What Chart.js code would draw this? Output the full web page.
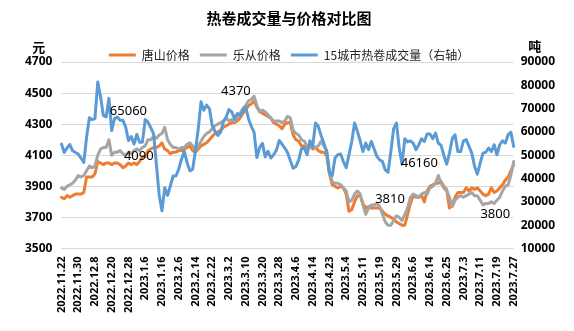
<!DOCTYPE html>
<html>
<head>
<meta charset="utf-8">
<script src="https://cdn.jsdelivr.net/npm/chart.js@4.4.0/dist/chart.umd.min.js"></script>
<style>
    html, body { margin: 0; padding: 0; background: #fff; }
    #cadre { width: 574px; height: 331px; }
</style>
</head>
<body>
<div id="cadre"><canvas id="GraphiqueVolumePrix"></canvas></div>
<script>
// etiquettes de l'axe x (une tous les 6 jours de cotation)
var etiquettesDates = ['2022.11.22', '2022.11.30', '2022.12.8', '2022.12.20', '2022.12.28', '2023.1.6', '2023.1.16',
    '2023.2.6', '2023.2.14', '2023.2.22', '2023.3.2', '2023.3.10', '2023.3.20', '2023.3.28', '2023.4.6', '2023.4.14',
    '2023.4.23', '2023.5.4', '2023.5.11', '2023.5.19', '2023.5.29', '2023.6.6', '2023.6.14', '2023.6.25', '2023.7.3',
    '2023.7.11', '2023.7.19', '2023.7.27'];
var pasEtiquettes = 6;

// 唐山价格 (元)
var prixTangshan = [
    3830, 3820, 3840, 3830, 3840, 3850, 3850, 3850, 3860, 3960,
    3960, 3960, 3980, 4060, 4050, 4040, 4050, 4050, 4040, 4050,
    4050, 4040, 4020, 4030, 4050, 4040, 4050, 4040, 4060, 4090,
    4090, 4130, 4140, 4150, 4150, 4160, 4180, 4140, 4130, 4110,
    4120, 4120, 4130, 4130, 4140, 4150, 4160, 4130, 4120, 4140,
    4160, 4170, 4180, 4200, 4220, 4240, 4250, 4260, 4280, 4290,
    4300, 4310, 4310, 4320, 4340, 4370, 4390, 4420, 4430, 4450,
    4410, 4380, 4370, 4360, 4350, 4340, 4310, 4300, 4290, 4270,
    4300, 4310, 4310, 4230, 4200, 4190, 4160, 4160, 4150, 4160,
    4140, 4150, 4130, 4120, 4120, 4100, 3980, 3910, 3900, 3890,
    3900, 3890, 3850, 3740, 3750, 3800, 3840, 3840, 3790, 3760,
    3770, 3760, 3760, 3760, 3760, 3740, 3720, 3710, 3700, 3690,
    3670, 3660, 3650, 3650, 3720, 3790, 3840, 3830, 3830, 3840,
    3800, 3870, 3900, 3910, 3920, 3920, 3930, 3900, 3880, 3760,
    3780, 3830, 3860, 3860, 3860, 3890, 3870, 3890, 3880, 3890,
    3870, 3850, 3840, 3850, 3890, 3860, 3870, 3890, 3910, 3940,
    3960, 4000, 4040
];

// 乐从价格 (元)
var prixLecong = [
    3890, 3880, 3900, 3910, 3920, 3940, 3970, 3960, 3970, 4000,
    4030, 4020, 4030, 4100, 4140, 4150, 4150, 4200, 4100, 4120,
    4120, 4130, 4110, 4100, 4120, 4110, 4130, 4140, 4130, 4150,
    4160, 4200, 4200, 4220, 4210, 4230, 4240, 4280, 4200, 4170,
    4150, 4150, 4140, 4150, 4150, 4170, 4180, 4160, 4140, 4160,
    4190, 4220, 4240, 4250, 4270, 4290, 4300, 4310, 4320, 4340,
    4320, 4330, 4320, 4350, 4370, 4400, 4420, 4450, 4460, 4480,
    4420, 4380, 4390, 4380, 4360, 4340, 4320, 4320, 4320, 4310,
    4320, 4350, 4340, 4260, 4240, 4230, 4200, 4190, 4160, 4150,
    4160, 4150, 4160, 4190, 4160, 4130, 4000, 3930, 3920, 3920,
    3910, 3890, 3870, 3800, 3810, 3850, 3870, 3850, 3780, 3720,
    3760, 3780, 3780, 3790, 3770, 3720, 3670, 3650, 3650, 3680,
    3710, 3700, 3680, 3720, 3760, 3830, 3850, 3840, 3830, 3850,
    3860, 3850, 3890, 3900, 3920, 3970, 3920, 3890, 3870, 3830,
    3770, 3810, 3830, 3840, 3830, 3840, 3850, 3860, 3840, 3840,
    3810, 3780, 3790, 3790, 3800, 3790, 3810, 3830, 3870, 3900,
    3910, 3970, 4060
];

// 15城市热卷成交量 (吨, 右轴)
var volume15Villes = [
    54800, 51200, 53100, 54600, 51900, 51200, 50500, 48800, 46900, 57700,
    66100, 65300, 65700, 81400, 75100, 67100, 66400, 74400, 60600, 65700,
    66400, 65060, 65000, 62100, 56300, 58000, 54800, 58900, 55600, 55600,
    65300, 64200, 61800, 59200, 46200, 33100, 26200, 36000, 32800, 36800,
    41100, 41100, 44000, 48300, 51700, 46900, 43300, 44000, 52000, 61300,
    72900, 69300, 71500, 70000, 62800, 60300, 58500, 59900, 64200, 66400,
    69600, 68600, 65700, 67900, 67100, 69000, 70800, 65700, 62400, 59900,
    49000, 53400, 55100, 49300, 51700, 48800, 50200, 52200, 56300, 54800,
    53100, 51200, 47600, 44400, 45200, 48000, 52800, 53100, 50200, 56200,
    53800, 63800, 62400, 58500, 55200, 51600, 42300, 41300, 48800, 50200,
    50500, 47300, 44700, 50200, 55900, 63800, 60300, 56200, 51600, 55200,
    52400, 55900, 52800, 49500, 48000, 47300, 43700, 42700, 51600, 61400,
    63800, 53100, 46160, 57100, 55700, 56200, 55200, 52400, 54500, 57100,
    55900, 59100, 59100, 57100, 59500, 55200, 54200, 49900, 46200, 50900,
    57100, 58800, 51600, 51600, 56200, 56700, 53800, 50900, 45200, 41900,
    46600, 50900, 51300, 53100, 51600, 54500, 50200, 54500, 56200, 55200,
    58800, 59900, 53800
];

// etiquettes de valeurs posees sur le graphique (index du point, valeur, axe)
var etiquettesValeurs = [
    { texte: '65060', index: 24, valeur: 68950, axe: 'yDroite' },
    { texte: '4090', index: 27.7, valeur: 4092, axe: 'yGauche' },
    { texte: '4370', index: 62.5, valeur: 4514, axe: 'yGauche' },
    { texte: '3810', index: 117.7, valeur: 3816, axe: 'yGauche' },
    { texte: '46160', index: 128.2, valeur: 46460, axe: 'yDroite' },
    { texte: '3800', index: 155.4, valeur: 3719, axe: 'yGauche' }
];

function GetCategories(nb, pas) {
    var categories = [];
    var i = 0;

    while (i < nb) {
        if (i % pas === 0 && etiquettesDates[i / pas] !== undefined) {
            categories.push(etiquettesDates[i / pas]);
        } else {
            categories.push('');
        }
        i++;
    }

    return categories;
}

function SansSeparateur(valeur) {
    return String(valeur);
}

var policeChiffres = '"Noto Sans", "Noto Sans CJK SC", sans-serif';
var policeChinois = '"Noto Sans CJK SC", "Noto Sans", sans-serif';

var pluginTextes = {
    id: 'textes',
    beforeInit: function (chart) {
        // legende moins haute pour coller la zone du graphique dessous
        var fitOrigine = chart.legend.fit;
        chart.legend.fit = function () {
            fitOrigine.call(this);
            this.height = this.height - 9;
        };
    },
    afterDatasetsDraw: function (chart) {
        var ctx = chart.ctx;
        var x = chart.scales.x;
        var g = chart.scales.yGauche;
        var d = chart.scales.yDroite;
        var i = 0;

        ctx.save();
        ctx.fillStyle = '#000';
        ctx.textAlign = 'center';
        ctx.textBaseline = 'middle';
        ctx.font = '13px ' + policeChiffres;

        while (i < etiquettesValeurs.length) {
            var e = etiquettesValeurs[i];
            ctx.fillText(e.texte, x.getPixelForValue(e.index), chart.scales[e.axe].getPixelForValue(e.valeur));
            i++;
        }

        ctx.font = 'bold 12px ' + policeChiffres;
        var largeurG = ctx.measureText('4700').width;
        var largeurD = ctx.measureText('90000').width;

        ctx.font = 'bold 13px ' + policeChinois;
        ctx.fillText('元', g.right - 9 - largeurG / 2, chart.chartArea.top - 15);
        ctx.fillText('吨', d.left + 7 + largeurD / 2 - 3, chart.chartArea.top - 16);
        ctx.restore();
    }
};

var ctx = document.getElementById('GraphiqueVolumePrix').getContext('2d');

var graphique = new Chart(ctx, {
    type: 'line',
    data: {
        labels: GetCategories(prixTangshan.length, pasEtiquettes),
        datasets: [
            {
                label: '唐山价格',
                data: prixTangshan,
                borderColor: '#ed7d31',
                backgroundColor: '#ed7d31',
                borderWidth: 3,
                yAxisID: 'yGauche',
                order: 2
            },
            {
                label: '乐从价格',
                data: prixLecong,
                borderColor: '#a5a5a5',
                backgroundColor: '#a5a5a5',
                borderWidth: 3,
                yAxisID: 'yGauche',
                order: 1
            },
            {
                label: '15城市热卷成交量（右轴）',
                data: volume15Villes,
                borderColor: '#5b9bd5',
                backgroundColor: '#5b9bd5',
                borderWidth: 3,
                yAxisID: 'yDroite',
                order: 0
            }
        ]
    },
    options: {
        responsive: true,
        maintainAspectRatio: false,
        animation: false,
        devicePixelRatio: 1,
        elements: {
            point: { radius: 0 },
            line: { tension: 0, borderJoinStyle: 'round', borderCapStyle: 'round' }
        },
        layout: {
            padding: { left: 16, right: 12, top: 0, bottom: 10 }
        },
        scales: {
            x: {
                offset: false,
                grid: { display: false, drawTicks: false },
                border: { display: false },
                ticks: {
                    autoSkip: false,
                    minRotation: 90,
                    maxRotation: 90,
                    padding: 8,
                    color: '#000',
                    font: { family: policeChiffres, size: 11, weight: 'bold' }
                }
            },
            yGauche: {
                position: 'left',
                min: 3500,
                max: 4700,
                grid: { color: '#d9d9d9', drawTicks: false },
                border: { display: false },
                ticks: {
                    stepSize: 200,
                    padding: 9,
                    color: '#000',
                    font: { family: policeChiffres, size: 12, weight: 'bold' },
                    callback: SansSeparateur
                }
            },
            yDroite: {
                position: 'right',
                min: 10000,
                max: 90000,
                grid: { display: false, drawTicks: false },
                border: { display: false },
                ticks: {
                    stepSize: 10000,
                    padding: 7,
                    color: '#000',
                    font: { family: policeChiffres, size: 12, weight: 'bold' },
                    callback: SansSeparateur
                }
            }
        },
        plugins: {
            title: {
                display: true,
                text: '热卷成交量与价格对比图',
                color: '#000',
                font: { family: policeChinois, size: 15, weight: 'bold' },
                padding: { top: 9, bottom: 12 }
            },
            legend: {
                display: true,
                position: 'top',
                labels: {
                    usePointStyle: true,
                    pointStyle: 'line',
                    pointStyleWidth: 27,
                    padding: 10,
                    color: '#222',
                    font: { family: policeChinois, size: 12 },
                    sort: function (a, b) { return a.datasetIndex - b.datasetIndex; }
                }
            },
            tooltip: { enabled: false }
        }
    },
    plugins: [pluginTextes]
});
</script>
</body>
</html>
